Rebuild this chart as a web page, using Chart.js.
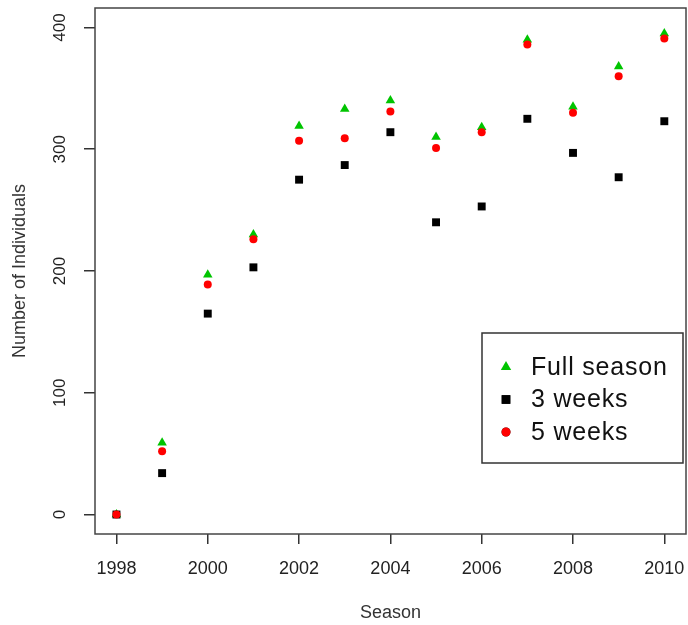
<!DOCTYPE html>
<html lang="en">
<head>
    <meta charset="UTF-8">
    <title>Number of Individuals by Season</title>
    <script src="https://cdn.jsdelivr.net/npm/chart.js"></script>
    <style>
        body {
            margin: 0;
            background: #ffffff;
        }
        .chart-box {
            width: 688px;
            height: 625px;
        }
    </style>
</head>
<body>
    <div class="chart-box">
        <canvas id="seasonChart" width="688" height="625"></canvas>
    </div>

    <script>
        // data
        const seasons = [1998, 1999, 2000, 2001, 2002, 2003, 2004, 2005, 2006, 2007, 2008, 2009, 2010];
        const fullSeason = [0, 59, 197, 230, 319, 333, 340, 310, 318, 390, 335, 368, 395];
        const threeWeeks = [0, 34, 165, 203, 275, 287, 314, 240, 253, 325, 297, 277, 323];
        const fiveWeeks = [0, 52, 189, 226, 307, 309, 331, 301, 314, 386, 330, 360, 391];

        const xTicks = [1998, 2000, 2002, 2004, 2006, 2008, 2010];
        const yTicks = [0, 100, 200, 300, 400];

        function toPoints(values) {
            return seasons.map((s, i) => ({ x: s, y: values[i] }));
        }

        // box round the plot region, like R's default frame
        const frame = {
            id: "frame",
            afterDatasetsDraw(chart) {
                const { ctx, chartArea: a } = chart;
                ctx.save();
                ctx.strokeStyle = "#444";
                ctx.lineWidth = 1.5;
                ctx.strokeRect(a.left, a.top, a.right - a.left, a.bottom - a.top);
                ctx.restore();
            }
        };

        // legend drawn inside the plot, lower right
        const insetLegend = {
            id: "insetLegend",
            afterDraw(chart) {
                const ctx = chart.ctx;
                const box = { x: 482, y: 333, w: 201, h: 130 };
                ctx.save();
                ctx.fillStyle = "#fff";
                ctx.fillRect(box.x, box.y, box.w, box.h);
                ctx.strokeStyle = "#333";
                ctx.lineWidth = 1.5;
                ctx.strokeRect(box.x, box.y, box.w, box.h);

                ctx.font = "25px 'Liberation Sans', Arial, sans-serif";
                ctx.letterSpacing = "0.8px";
                ctx.textBaseline = "middle";
                chart.data.datasets.forEach((ds, i) => {
                    const y = 367 + i * 32.5;
                    Chart.helpers.drawPoint(ctx, {
                        pointStyle: ds.pointStyle,
                        radius: ds.pointRadius + 0.5,
                        borderWidth: 0,
                        rotation: 0
                    }, 506, y);
                    ctx.fillStyle = ds.backgroundColor;
                    ctx.fill();
                    ctx.fillStyle = "#111";
                    ctx.fillText(ds.label, 531, y + 1);
                });
                ctx.restore();
            }
        };

        const ctx = document.getElementById("seasonChart").getContext("2d");
        new Chart(ctx, {
            type: "scatter",
            data: {
                datasets: [
                    {
                        label: "Full season",
                        data: toPoints(fullSeason),
                        pointStyle: "triangle",
                        pointRadius: 5.5,
                        backgroundColor: "#00c400",
                        borderWidth: 0,
                        order: 3
                    },
                    {
                        label: "3 weeks",
                        data: toPoints(threeWeeks),
                        pointStyle: "rect",
                        pointRadius: 5.6,
                        backgroundColor: "#000000",
                        borderWidth: 0,
                        order: 2
                    },
                    {
                        label: "5 weeks",
                        data: toPoints(fiveWeeks),
                        pointStyle: "circle",
                        pointRadius: 4,
                        backgroundColor: "#ff0000",
                        borderWidth: 0,
                        order: 1
                    }
                ]
            },
            options: {
                responsive: false,
                animation: false,
                layout: { autoPadding: false, padding: { top: 8, right: 2, left: 0, bottom: 0 } },
                plugins: {
                    legend: { display: false },
                    tooltip: { enabled: false }
                },
                scales: {
                    x: {
                        type: "linear",
                        min: 1997.53,
                        max: 2010.475,
                        afterBuildTicks: (scale) => { scale.ticks = xTicks.map(v => ({ value: v })); },
                        afterFit: (scale) => {
                            scale.height = 91;
                            scale.paddingLeft = 0;
                            scale.paddingRight = 0;
                        },
                        grid: { drawOnChartArea: false, drawTicks: true, tickLength: 10, color: "#333", lineWidth: 1.5 },
                        border: { display: false },
                        ticks: {
                            color: "#222",
                            padding: 14,
                            maxRotation: 0,
                            font: { family: "'Liberation Sans', Arial, sans-serif", size: 18 },
                            callback: (v) => String(v)
                        },
                        title: {
                            display: true,
                            text: "Season",
                            color: "#333",
                            font: { family: "'Liberation Sans', Arial, sans-serif", size: 18 },
                            padding: { top: 0, bottom: 1 }
                        }
                    },
                    y: {
                        min: -16,
                        max: 416,
                        afterBuildTicks: (scale) => { scale.ticks = yTicks.map(v => ({ value: v })); },
                        afterFit: (scale) => {
                            scale.width = 95;
                            scale.paddingTop = 0;
                            scale.paddingBottom = 0;
                        },
                        grid: { drawOnChartArea: false, drawTicks: true, tickLength: 11, color: "#333", lineWidth: 1.5 },
                        border: { display: false },
                        ticks: {
                            color: "#222",
                            padding: 10,
                            minRotation: 90,
                            maxRotation: 90,
                            crossAlign: "center",
                            font: { family: "'Liberation Sans', Arial, sans-serif", size: 17 }
                        },
                        title: {
                            display: true,
                            text: "Number of Individuals",
                            color: "#333",
                            font: { family: "'Liberation Sans', Arial, sans-serif", size: 18 },
                            padding: { top: 9, bottom: 0 }
                        }
                    }
                }
            },
            plugins: [frame, insetLegend]
        });
    </script>
</body>
</html>
